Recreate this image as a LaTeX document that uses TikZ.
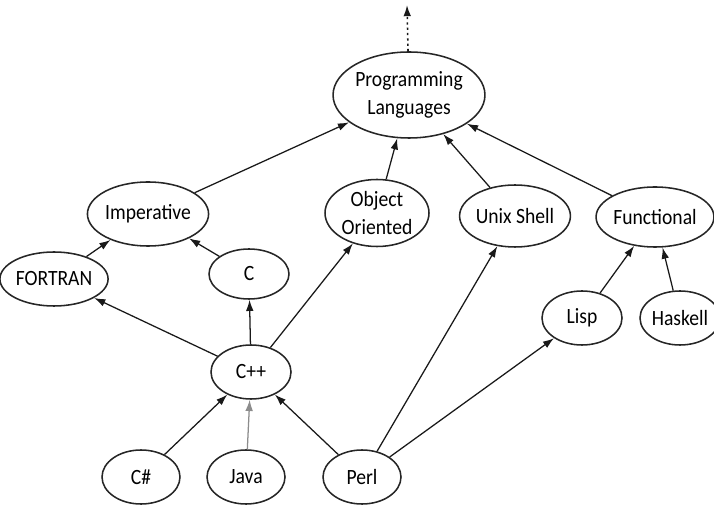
\documentclass[tikz,border=0pt]{standalone}
\usepackage{fontspec}
\setmainfont{Carlito}[FakeStretch=0.9]
\usetikzlibrary{shapes.geometric,arrows.meta}

\begin{document}
\begin{tikzpicture}[
  lang/.style={ellipse, draw=black!85, line width=1.1pt, inner sep=0pt, align=center,
               font=\fontsize{15.5}{20}\selectfont},
  arr/.style={line width=0.9pt, draw=black!90, -{Latex[length=2.8mm,width=1.9mm]}},
  faint_arr/.style={arr, draw=black!45},
  up_arr/.style={arr, dash pattern=on 1.6pt off 2.2pt, line width=1.1pt}
]
  \useasboundingbox (0,0) rectangle (17.85,12.675);

  % --- Raiz ---
  \node[lang, minimum width=3.55cm, minimum height=2.15cm] (pl) at (10.225,10.30) {Programming\\Languages};
  \coordinate (top) at (10.175,12.55);

  % --- Paradigmas ---
  \node[lang, minimum width=2.45cm, minimum height=1.6cm]   (imp)  at (3.70,7.325)   {Imperative};
  \node[lang, minimum width=2.6cm,  minimum height=1.675cm] (oo)   at (9.425,7.35)   {Object\\Oriented};
  \node[lang, minimum width=2.425cm,minimum height=1.55cm]  (unix) at (12.875,7.275) {Unix Shell};
  \node[lang, minimum width=2.4cm,  minimum height=1.5cm]   (func) at (16.375,7.25)  {Functional};

  % --- Nivel intermedio ---
  \node[lang, minimum width=2.2cm, minimum height=1.35cm] (fortran) at (1.35,5.70)   {FORTRAN};
  \node[lang, minimum width=2.0cm, minimum height=1.25cm] (c)       at (6.225,5.825) {C};
  \node[lang, minimum width=2.0cm, minimum height=1.35cm] (lisp)    at (14.55,4.725) {Lisp};
  \node[lang, minimum width=2.0cm, minimum height=1.35cm] (haskell) at (17.0,4.725)  {Haskell};
  \node[lang, minimum width=2.0cm, minimum height=1.35cm] (cpp)     at (6.275,3.375) {C++};

  % --- Fila inferior ---
  \node[lang, minimum width=1.95cm, minimum height=1.35cm] (csharp) at (3.525,0.75) {C\#};
  \node[lang, minimum width=1.95cm, minimum height=1.35cm] (java)   at (6.15,0.75)  {Java};
  \node[lang, minimum width=1.95cm, minimum height=1.35cm] (perl)   at (9.05,0.75)  {Perl};

  % Aristas hacia la raiz
  \draw[up_arr] (pl) -- (top);
  \draw[arr] (imp) -- (pl);
  \draw[arr] (oo) -- (pl);
  \draw[arr] (unix) -- (pl);
  \draw[arr] (func) -- (pl);

  % Aristas intermedias
  \draw[arr] (fortran) -- (imp);
  \draw[arr] (c) -- (imp);
  \draw[arr] (cpp) -- (fortran);
  \draw[arr] (cpp) -- (c);
  \draw[arr] (cpp) -- (oo);
  \draw[arr] (lisp) -- (func);
  \draw[arr] (haskell) -- (func);

  % Aristas desde abajo
  \draw[arr] (csharp) -- (cpp);
  \draw[faint_arr] (java) -- (cpp);
  \draw[arr] (perl) -- (cpp);
  \draw[arr] (perl) -- (unix);
  \draw[arr] (perl) -- (lisp);
\end{tikzpicture}
\end{document}
